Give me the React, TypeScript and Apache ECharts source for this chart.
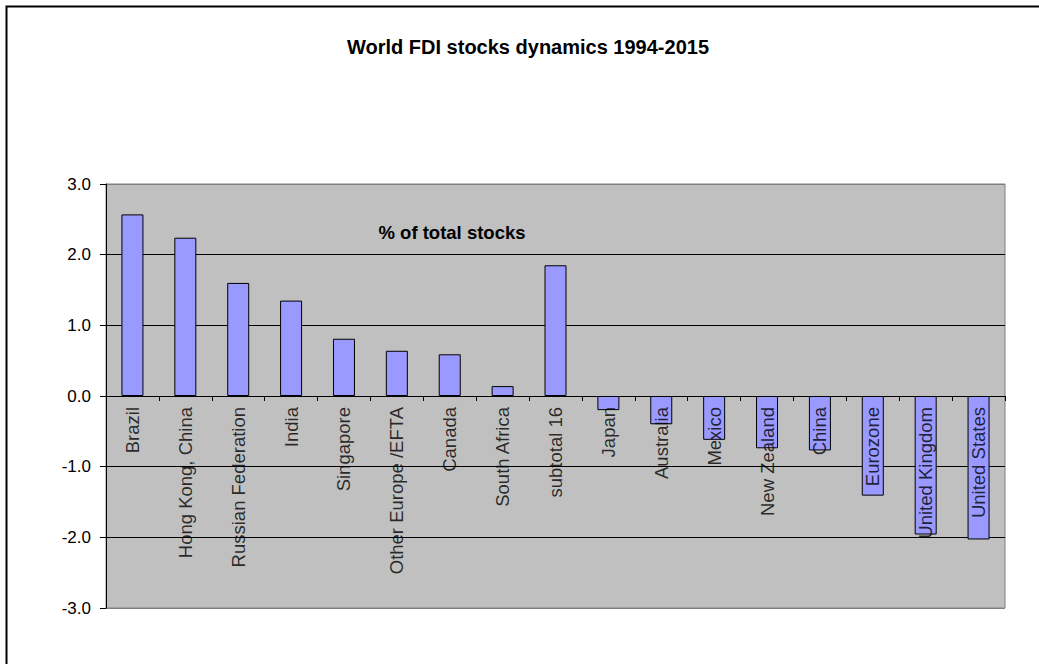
import React, { useEffect, useRef } from "react";
import * as echarts from "echarts";

const categories = [
  "Brazil",
  "Hong Kong, China",
  "Russian Federation",
  "India",
  "Singapore",
  "Other Europe /EFTA",
  "Canada",
  "South Africa",
  "subtotal 16",
  "Japan",
  "Australia",
  "Mexico",
  "New Zealand",
  "China",
  "Eurozone",
  "United Kingdom",
  "United States",
];

const shareChange = [
  2.57, 2.24, 1.6, 1.35, 0.81, 0.64, 0.59, 0.14, 1.85, -0.2, -0.4, -0.62, -0.74, -0.77,
  -1.41, -1.96, -2.03,
];

const titleText = "World FDI stocks dynamics 1994-2015";
const subtitleText = "% of total stocks";

export default function App() {
  const ref = useRef<HTMLDivElement>(null);

  useEffect(() => {
    if (!ref.current) return;
    const chart = echarts.init(ref.current, undefined, { renderer: "svg" });
    const font = "'Liberation Sans', Arial, sans-serif";
    chart.setOption({
      animation: false,
      backgroundColor: "#ffffff",
      textStyle: { fontFamily: font },
      graphic: [
        {
          type: "rect",
          z: 100,
          shape: { x: 6.5, y: 6.5, width: 1200, height: 1000 },
          style: { fill: "none", stroke: "#000", lineWidth: 2 },
          silent: true,
        },
        {
          type: "text",
          z: 100,
          x: 528,
          y: 47,
          style: {
            text: titleText,
            fontFamily: font,
            fontSize: 20,
            fontWeight: "bold",
            fill: "#000",
            align: "center",
            verticalAlign: "middle",
          },
        },
        {
          type: "text",
          z: 100,
          x: 452,
          y: 232,
          style: {
            text: subtitleText,
            fontFamily: font,
            fontSize: 18.5,
            fontWeight: "bold",
            fill: "#000",
            align: "center",
            verticalAlign: "middle",
          },
        },
      ],
      grid: {
        left: 106,
        right: 34,
        top: 184,
        bottom: 56,
        show: true,
        backgroundColor: "#C0C0C0",
        borderColor: "#808080",
        borderWidth: 1,
        containLabel: false,
        outerBoundsMode: "none",
      },
      xAxis: {
        type: "category",
        data: categories,
        axisLine: { show: true, onZero: true, lineStyle: { color: "#000", width: 1 } },
        axisTick: { show: true, length: 5, interval: 0, lineStyle: { color: "#000" } },
        axisLabel: { show: false },
        splitLine: { show: false },
      },
      yAxis: {
        type: "value",
        min: -3,
        max: 3,
        interval: 1,
        axisLine: { show: true, lineStyle: { color: "#000", width: 1 } },
        axisTick: { show: true, length: 6, lineStyle: { color: "#000" } },
        axisLabel: {
          fontSize: 17,
          color: "#000",
          margin: 15,
          fontFamily: font,
          formatter: (v: number) => v.toFixed(1),
        },
        splitLine: {
          show: true,
          lineStyle: {
            color: ["#808080", "#000", "#000", "#000", "#000", "#000", "#808080"],
            width: 1,
          },
        },
      },
      series: [
        {
          type: "bar",
          data: shareChange,
          barWidth: 22,
          itemStyle: { color: "#9999FF", borderColor: "#000", borderWidth: 1 },
          z: 2,
        },
        {
          type: "scatter",
          data: categories.map((c) => [c, 0]),
          symbolSize: 0,
          silent: true,
          z: 5,
          label: {
            show: true,
            position: [0, 11],
            rotate: 90,
            align: "right",
            verticalAlign: "middle",
            fontSize: 18.5,
            color: "#000",
            fontFamily: font,
            formatter: (p: any) => categories[p.dataIndex],
          },
        },
      ],
    });
    return () => chart.dispose();
  }, []);

  return (
    <div
      ref={ref}
      style={{ position: "fixed", left: 0, top: 0, width: 1039, height: 664 }}
    />
  );
}
